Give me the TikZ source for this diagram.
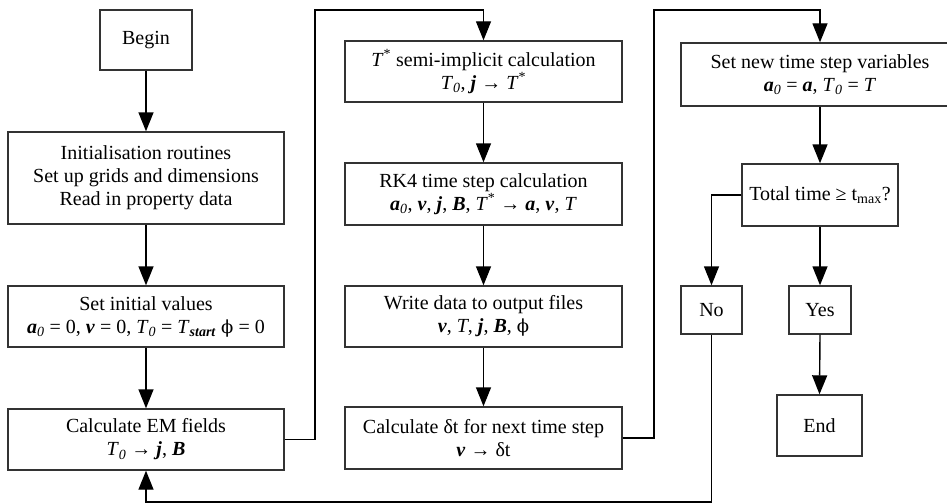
\documentclass[tikz,border=0pt]{standalone}
\usepackage{fontspec}
\setmainfont{Liberation Serif}
\newfontfamily\phifont{DejaVu Serif}
\usetikzlibrary{arrows.meta}
\newcommand\bivar[1]{\textbf{\textit{#1}}}
\newcommand\subi[1]{\textsubscript{\textit{#1}}}
\newcommand\phisym{{\phifont\fontsize{18}{23}\selectfont ϕ}}
\begin{document}
\begin{tikzpicture}[x=1pt,y=-1pt,
  box/.style={draw=black!80,line width=1.4pt,fill=white,inner sep=0pt,align=center,
    font=\fontsize{20}{23}\selectfont},
  arr/.style={draw=black,line width=1.4pt,-{Triangle[length=19pt,width=15pt]}},
  lin/.style={draw=black!80,line width=1.3pt}]
\clip (0,0) rectangle (947,503);
\fill[white] (0,0) rectangle (947,503);
% left column
\node[box,minimum width=92pt,minimum height=60pt] (begin) at (146,40) {Begin};
\node[box,minimum width=276pt,minimum height=92pt] (init) at (146,178)
  {Initialisation routines\\Set up grids and dimensions\\Read in property data};
\node[box,minimum width=276pt,minimum height=61pt] (setinit) at (146,316.5)
  {Set initial values\\\bivar{a}\subi{0} = 0, \bivar{v} = 0, \textit{T}\subi{0} = \textit{T}\textsubscript{\textbf{\textit{start}}} \phisym{} = 0};
\node[box,minimum width=276pt,minimum height=61pt] (em) at (146,439.5)
  {Calculate EM fields\\\textit{T}\subi{0} → \bivar{j}, \bivar{B}};
% middle column
\node[box,minimum width=277pt,minimum height=61pt] (tstar) at (483.5,71.5)
  {\textit{T}\textsuperscript{*} semi-implicit calculation\\\textit{T}\subi{0}, \bivar{j} → \textit{T}\textsuperscript{*}};
\node[box,minimum width=277pt,minimum height=62pt] (rk4) at (483.5,194)
  {RK4 time step calculation\\\bivar{a}\subi{0}, \bivar{v}, \bivar{j}, \bivar{B}, \textit{T}\textsuperscript{*} → \bivar{a}, \bivar{v}, \textit{T}};
\node[box,minimum width=277pt,minimum height=61pt] (write) at (483.5,316.5)
  {Write data to output files\\\bivar{v}, \textit{T}, \bivar{j}, \bivar{B}, \phisym};
\node[box,minimum width=277pt,minimum height=62pt] (dt) at (483.5,438)
  {Calculate δt for next time step\\\bivar{v} → δt};
% right column
\node[box,minimum width=278pt,minimum height=63pt] (setnew) at (820,74.5)
  {Set new time step variables\\\bivar{a}\subi{0} = \bivar{a}, \textit{T}\subi{0} = \textit{T}};
\node[box,minimum width=156pt,minimum height=62pt] (total) at (820,195)
  {Total time ≥ t\textsubscript{max}?};
\node[box,minimum width=61pt,minimum height=48pt] (no) at (711.5,310) {No};
\node[box,minimum width=62pt,minimum height=48pt] (yes) at (820,310) {Yes};
\node[box,minimum width=85pt,minimum height=61pt] (end) at (819.5,425.5) {End};
% corner coordinates
\coordinate (c1) at (315,10);
\coordinate (c2) at (654,10);
\coordinate (c3) at (146,502);
% connectors
\draw[arr] (begin.south) -- (init.north);
\draw[arr] (init.south) -- (setinit.north);
\draw[arr] (setinit.south) -- (em.north);
\draw[arr] (em.east) -| (c1) -| (tstar.north);
\draw[arr] (tstar.south) -- (rk4.north);
\draw[arr] (rk4.south) -- (write.north);
\draw[arr] (write.south) -- (dt.north);
\draw[arr] (dt.east) -| (c2) -| (setnew.north);
\draw[arr] (setnew.south) -- (total.north);
\draw[arr] (total.west) -| (no.north);
\draw[arr] (total.south) -- (yes.north);
\draw[arr] (yes.south) -- (end.north);
\draw[arr] (no.south) |- (c3) -- (em.south);
\end{tikzpicture}
\end{document}
